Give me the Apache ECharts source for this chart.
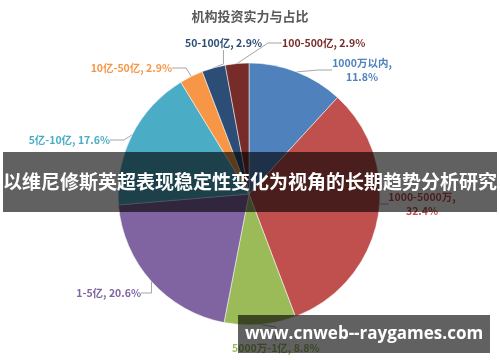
<!DOCTYPE html>
<html><head><meta charset="utf-8">
<script src="https://cdn.jsdelivr.net/npm/echarts@6/dist/echarts.min.js"></script>
<style>html,body{margin:0;padding:0;background:#fff}#c{width:500px;height:362px}</style>
</head><body><div id="c"></div>
<script>
const title = '机构投资实力与占比';
const categories = ['1000万以内','1000-5000万','5000万-1亿','1-5亿','5亿-10亿','10亿-50亿','50-100亿','100-500亿'];
const values = [11.8, 32.4, 8.8, 20.6, 17.6, 2.9, 2.9, 2.9];
const colors = ['#4F81BD','#C0504D','#9BBB59','#8064A2','#4BACC6','#F79646','#2C4D75','#772C2A'];
const labelNames = ['1000万以内,','1000-5000万,','5000万-1亿,','1-5亿,','5亿-10亿,','10亿-50亿,','50-100亿,','100-500亿,'];
const banner = '以维尼修斯英超表现稳定性变化为视角的长期趋势分析研究';
const watermark = 'www.cnweb--raygames.com';

// label placement (layout only)
const labelPlace = [
  { x: 362, y: 70, align: 'center' },
  { x: 422, y: 204, align: 'center' },
  { x: 232, y: 348, align: 'left' },
  { x: 141, y: 293, align: 'right' },
  { x: 110, y: 140, align: 'right' },
  { x: 172, y: 68, align: 'right' },
  { x: 262, y: 43, align: 'right' },
  { x: 282, y: 43, align: 'left' }
];

const chart = echarts.init(document.getElementById('c'));
const FONT = '"Noto Sans CJK SC", "Liberation Sans", sans-serif';
chart.setOption({
  animation: false,
  title: { text: title, left: 'center', top: 5,
    textStyle: { fontSize: 13, fontWeight: 'bold', color: '#595959', fontFamily: FONT } },
  series: [{
    type: 'pie',
    center: [249, 194], radius: 131,
    startAngle: 90, clockwise: true,
    itemStyle: { borderColor: '#fff', borderWidth: 0.5 },
    label: {
      fontSize: 10.5, fontFamily: FONT, fontWeight: 'bold', lineHeight: 14,
      formatter: p => (p.dataIndex <= 1) ? labelNames[p.dataIndex] + '\n' + p.value + '%' : labelNames[p.dataIndex] + ' ' + p.value + '%'
    },
    labelLine: { length: 14, length2: 14, lineStyle: { color: '#A6A6A6', width: 1 } },
    labelLayout: p => Object.assign({ verticalAlign: 'middle' }, labelPlace[p.dataIndex]),
    data: categories.map((c, i) => ({ name: c, value: values[i],
      itemStyle: { color: colors[i] }, label: { color: colors[i] } }))
  }],
  graphic: [
    { type: 'rect', shape: { x: 3, y: 152, width: 494, height: 60 }, style: { fill: 'rgba(0,0,0,0.62)' }, z: 100 },
    { type: 'text', x: 250, y: 182, style: { text: banner, fill: '#fff', font: 'bold 19px "Noto Sans CJK SC"', align: 'center', verticalAlign: 'middle' }, z: 101 },
    { type: 'rect', shape: { x: 238, y: 315, width: 252, height: 38 }, style: { fill: 'rgba(0,0,0,0.62)' }, z: 100 },
    { type: 'text', x: 364, y: 334, style: { text: watermark, fill: '#fff', font: 'bold 17px "Open Sans", "DejaVu Sans"', align: 'center', verticalAlign: 'middle' }, z: 101 }
  ]
});
</script></body></html>
